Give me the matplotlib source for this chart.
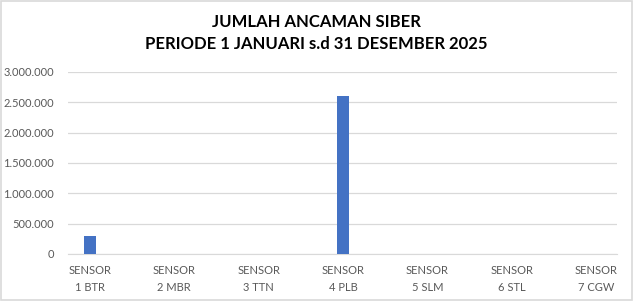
import matplotlib
matplotlib.use("Agg")
import matplotlib.pyplot as plt
from matplotlib.ticker import FuncFormatter, MultipleLocator
from matplotlib.patches import Rectangle

categories = ["SENSOR\n1 BTR", "SENSOR\n2 MBR", "SENSOR\n3 TTN", "SENSOR\n4 PLB",
              "SENSOR\n5 SLM", "SENSOR\n6 STL", "SENSOR\n7 CGW"]
values = [300000, 0, 0, 2600000, 0, 0, 0]
title = "JUMLAH ANCAMAN SIBER\nPERIODE 1 JANUARI s.d 31 DESEMBER 2025"

plt.rcParams['font.family'] = ['Lato', 'DejaVu Sans']

fig = plt.figure(figsize=(6.33, 3.01), dpi=100)
fig.patch.set_facecolor("white")
fig.add_artist(Rectangle((0.0015, 0.002), 0.997, 0.995, transform=fig.transFigure,
                         fill=False, edgecolor="#d9d9d9", linewidth=1.2))

ax = fig.add_axes([68/633, 1-254/301, (617-68)/633, (254-72)/301])
x = list(range(len(categories)))
ax.bar(x, values, width=0.145, color="#4472c4", zorder=3)
ax.set_xlim(-0.26, 6.25)
ax.set_ylim(0, 3000000)
ax.yaxis.set_major_locator(MultipleLocator(500000))
ax.yaxis.set_major_formatter(FuncFormatter(lambda v, p: f"{int(v):,}".replace(",", ".")))
ax.grid(axis="y", color="#d9d9d9", linewidth=0.9, zorder=0)
for s in ax.spines.values():
    s.set_visible(False)
ax.spines['bottom'].set_visible(True)
ax.spines['bottom'].set_color("#d9d9d9")
ax.tick_params(axis="both", length=0, labelsize=8, colors="#595959")
ax.tick_params(axis="y", pad=10)
ax.tick_params(axis="x", pad=8)
ax.set_xticks(x)
ax.set_xticklabels(categories, linespacing=1.6)

fig.text(0.5, 1-33/301, title, ha="center", va="center", fontsize=12, fontweight="bold",
         color="black", linespacing=1.5)

fig.savefig("out.png", dpi=100)
